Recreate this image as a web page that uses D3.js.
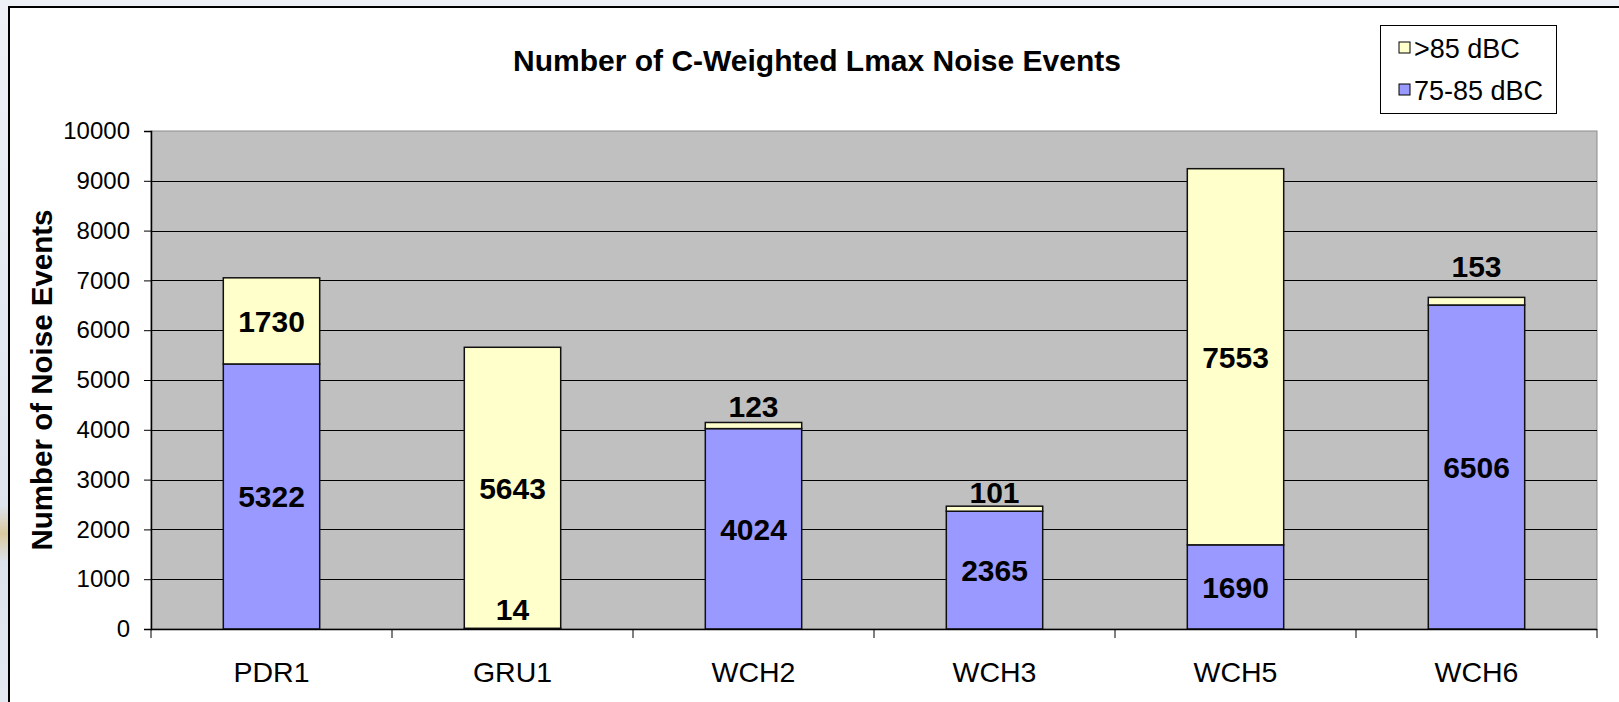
<!DOCTYPE html>
<html>
<head>
<meta charset="utf-8">
<title>Number of C-Weighted Lmax Noise Events</title>
<script src="https://cdnjs.cloudflare.com/ajax/libs/d3/7.8.5/d3.min.js"></script>
<style>
    html, body { margin: 0; padding: 0; overflow: hidden; }
    body { width: 1619px; height: 702px; background: #e9edf3; }
    text { font-family: "Liberation Sans", Arial, sans-serif; fill: #000; }
    .title { font-size: 30px; font-weight: bold; }
    .axis-title { font-size: 29.5px; font-weight: bold; }
    .tick-label { font-size: 24px; }
    .cat-label { font-size: 28.5px; }
    .value-label { font-size: 30px; font-weight: bold; }
    .legend-label { font-size: 27px; }
</style>
</head>
<body>
<svg id="chart" width="1619" height="702"></svg>
<script>
// Data
const sites = ["PDR1", "GRU1", "WCH2", "WCH3", "WCH5", "WCH6"];
const low = [5322, 14, 4024, 2365, 1690, 6506];   // 75-85 dBC
const high = [1730, 5643, 123, 101, 7553, 153];   // >85 dBC
const seriesNames = ["75-85 dBC", ">85 dBC"];
const yTicks = [0, 1000, 2000, 3000, 4000, 5000, 6000, 7000, 8000, 9000, 10000];

const colors = { "75-85 dBC": "#9999ff", ">85 dBC": "#ffffcc" };

const svg = d3.select("#chart");

// Slide background peeking out at the left edge
const defs = svg.append("defs");
const grad = defs.append("linearGradient").attr("id", "bg").attr("x1", 0).attr("y1", 0).attr("x2", 0).attr("y2", 1);
grad.append("stop").attr("offset", "0%").attr("stop-color", "#eef1f6");
grad.append("stop").attr("offset", "72%").attr("stop-color", "#dde4ee");
grad.append("stop").attr("offset", "76%").attr("stop-color", "#d9c9a0");
grad.append("stop").attr("offset", "80%").attr("stop-color", "#dbe2ec");
grad.append("stop").attr("offset", "100%").attr("stop-color", "#e4e9f0");
svg.append("rect").attr("width", 1619).attr("height", 702).attr("fill", "url(#bg)");

// Chart frame (runs off the right and bottom edges)
svg.append("rect")
    .attr("x", 9).attr("y", 7)
    .attr("width", 1700).attr("height", 800)
    .attr("fill", "#fff")
    .attr("stroke", "#000")
    .attr("stroke-width", 2);

const plot = { left: 151, right: 1597, top: 131, bottom: 629 };

const x = d3.scaleBand()
    .domain(sites)
    .range([plot.left, plot.right])
    .padding(0);
const barWidth = x.bandwidth() * 0.4;

const y = d3.scaleLinear()
    .domain([0, 10000])
    .range([plot.bottom, plot.top]);

// Plot area background
svg.append("rect")
    .attr("x", plot.left).attr("y", plot.top)
    .attr("width", plot.right - plot.left)
    .attr("height", plot.bottom - plot.top)
    .attr("fill", "#c0c0c0")
    .attr("stroke", "#8c8c8c")
    .attr("stroke-width", 1);

// Gridlines
svg.append("g")
    .selectAll("line")
    .data(yTicks.slice(1, -1))
    .enter().append("line")
    .attr("x1", plot.left).attr("x2", plot.right)
    .attr("y1", d => Math.round(y(d)) + 0.5)
    .attr("y2", d => Math.round(y(d)) + 0.5)
    .attr("stroke", "#000")
    .attr("stroke-width", 1);

// Stacked bars
const stackData = sites.map((s, i) => ({ site: s, "75-85 dBC": low[i], ">85 dBC": high[i] }));
const stacked = d3.stack().keys(seriesNames)(stackData);

svg.append("g")
    .selectAll("g")
    .data(stacked)
    .enter().append("g")
    .attr("fill", d => colors[d.key])
    .selectAll("rect")
    .data(d => d)
    .enter().append("rect")
    .attr("x", d => x(d.data.site) + (x.bandwidth() - barWidth) / 2)
    .attr("y", d => y(d[1]))
    .attr("width", barWidth)
    .attr("height", d => y(d[0]) - y(d[1]))
    .attr("stroke", "#111")
    .attr("stroke-width", 1.5);

// Y axis
const yAxis = svg.append("g")
    .attr("transform", `translate(${plot.left},0)`)
    .call(d3.axisLeft(y).tickValues(yTicks).tickSize(7).tickPadding(14).tickFormat(d3.format("d")));
yAxis.select(".domain").attr("stroke", "#000").attr("stroke-width", 1.5);
yAxis.selectAll(".tick line").attr("stroke", "#000");
yAxis.selectAll(".tick text")
    .attr("class", "tick-label")
    .attr("font-family", null).attr("font-size", null)
    .attr("fill", "#000");

// X axis with boundary ticks between categories
const xAxis = svg.append("g").attr("transform", `translate(0,${plot.bottom})`);
xAxis.append("line")
    .attr("x1", plot.left).attr("x2", plot.right)
    .attr("y1", 0.5).attr("y2", 0.5)
    .attr("stroke", "#000").attr("stroke-width", 1.5);
xAxis.selectAll(".bound")
    .data(sites.map(s => x(s)).concat([plot.right]))
    .enter().append("line")
    .attr("x1", d => d).attr("x2", d => d)
    .attr("y1", 0).attr("y2", 9)
    .attr("stroke", "#000");
xAxis.selectAll(".cat-label")
    .data(sites)
    .enter().append("text")
    .attr("class", "cat-label")
    .attr("x", d => x(d) + x.bandwidth() / 2)
    .attr("y", 53)
    .attr("text-anchor", "middle")
    .text(d => d);

// Value labels: centred in big segments, small ones nudged outside
const nudge = { "WCH2": 16, "WCH3": 14, "WCH6": 31 };
const labels = [];
sites.forEach((s, i) => {
    const cx = x(s) + x.bandwidth() / 2;
    if (low[i] > 500) {
        labels.push({ x: cx, y: y(low[i] / 2), text: low[i] });
    } else {
        labels.push({ x: cx, y: y(400), text: low[i] });
    }
    if (high[i] > 500) {
        labels.push({ x: cx, y: y(low[i] + high[i] / 2), text: high[i] });
    } else {
        labels.push({ x: cx, y: y(low[i] + high[i]) - (nudge[s] || 16), text: high[i] });
    }
});
svg.append("g")
    .selectAll("text")
    .data(labels)
    .enter().append("text")
    .attr("class", "value-label")
    .attr("x", d => d.x)
    .attr("y", d => d.y)
    .attr("dy", "0.36em")
    .attr("text-anchor", "middle")
    .text(d => d.text);

// Title
svg.append("text")
    .attr("class", "title")
    .attr("x", 817)
    .attr("y", 60)
    .attr("dy", "0.36em")
    .attr("text-anchor", "middle")
    .text("Number of C-Weighted Lmax Noise Events");

// Y axis title
svg.append("text")
    .attr("class", "axis-title")
    .attr("transform", `translate(41,${(plot.top + plot.bottom) / 2}) rotate(-90)`)
    .attr("dy", "0.36em")
    .attr("text-anchor", "middle")
    .text("Number of Noise Events");

// Legend
const legend = svg.append("g").attr("transform", "translate(1380,25)");
legend.append("rect")
    .attr("x", 0.5).attr("y", 0.5)
    .attr("width", 176).attr("height", 88)
    .attr("fill", "#fff")
    .attr("stroke", "#000");
const legendItems = legend.selectAll(".item")
    .data([">85 dBC", "75-85 dBC"])
    .enter().append("g")
    .attr("transform", (d, i) => `translate(19,${23 + i * 42})`);
legendItems.append("rect")
    .attr("x", 0).attr("y", -6)
    .attr("width", 11).attr("height", 11)
    .attr("fill", d => colors[d])
    .attr("stroke", "#000");
legendItems.append("text")
    .attr("class", "legend-label")
    .attr("x", 15)
    .attr("dy", "0.36em")
    .text(d => d);
</script>
</body>
</html>
